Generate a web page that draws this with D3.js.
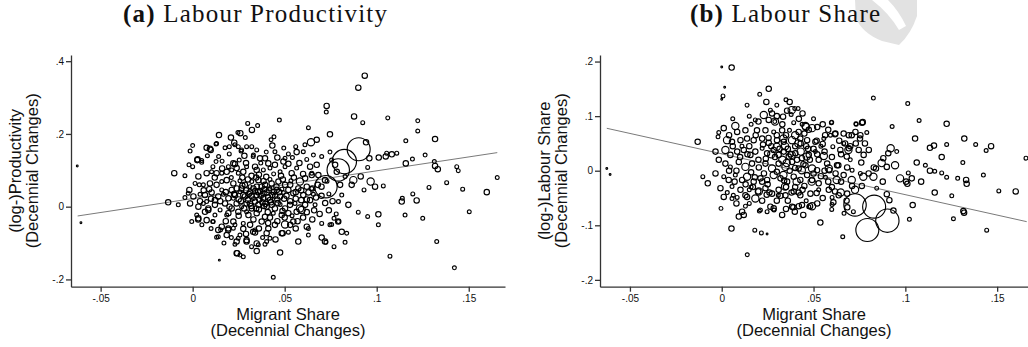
<!DOCTYPE html>
<html><head><meta charset="utf-8">
<script src="https://cdn.jsdelivr.net/npm/d3@7"></script>
<style>body{margin:0;background:#fff}svg{display:block}</style>
</head><body>
<svg id="chart" width="1028" height="347"></svg>
<script>
// weight classes (population weights of regions)
const d=0.6, s=2.8, m=5.5, b=10;

const xTicks=[-0.05,0,0.05,0.1,0.15];
const xTickLabels=["-.05","0",".05",".1",".15"];
const prodYTicks=[-0.2,0,0.2,0.4];
const prodYTickLabels=["-.2","0",".2",".4"];
const shareYTicks=[-0.2,-0.1,0,0.1,0.2];
const shareYTickLabels=["-.2","-.1","0",".1",".2"];

const panelTitles=["(a)","Labour Productivity","(b)","Labour Share"];
const xTitle=["Migrant Share","(Decennial Changes)"];
const prodYTitle=["(log-)Productivity","(Decennial Changes)"];
const shareYTitle=["(log-)Labour Share","(Decennial Changes)"];

// fitted lines: [intercept, slope], x-range
const prodFitCoef=[0.0222,0.764];
const prodFitRange=[-0.0625,0.1655];
const shareFitCoef=[0.0309,-0.748];
const shareFitRange=[-0.0626,0.1661];

// [migrant share change, log productivity change, weight]
const productivityPoints=[
[-0.0627,0.112,d],[-0.0100,0.092,m],[-0.0042,0.085,s],[-0.0607,-0.044,d],[-0.0133,0.012,m],[-0.0078,0.005,s],[-0.0042,0.025,s],
[0.0935,0.360,m],[0.0900,0.327,m],[0.0877,0.248,m],[0.0924,0.231,s],[0.1060,0.244,s],[0.1223,0.236,s],[0.1223,0.208,s],[0.1317,0.186,m],[0.1158,0.181,s],
[0.0951,0.108,s],[0.0960,0.133,m],[0.1011,0.135,m],[0.1049,0.138,m],[0.1054,0.147,s],[0.1082,0.144,m],[0.1109,0.147,s],[0.1158,0.119,m],[0.1194,0.131,s],
[0.1263,0.142,s],[0.1313,0.124,s],[0.1317,0.112,m],[0.1332,0.103,m],[0.1435,0.110,s],[0.1443,0.099,s],[0.1380,0.066,s],[0.1467,0.048,s],[0.1284,0.053,s],
[0.1196,0.035,s],[0.1598,0.040,m],[0.1139,0.023,s],[0.0967,0.069,b],[0.0991,0.055,m],[0.1036,0.057,s],[0.0913,0.083,m],[0.0873,0.073,b],[0.1655,0.080,s],[0.0942,0.177,m],
[0.0900,-0.015,s],[0.0951,-0.027,s],[0.1009,-0.021,m],[0.1009,-0.050,s],[0.1072,-0.136,s],[0.1136,0.014,m],[0.1154,-0.023,s],[0.1217,0.017,m],[0.1250,-0.032,s],
[0.1326,-0.096,s],[0.1422,-0.168,s],[0.1503,-0.014,s],[0.0864,0.060,m],[0.0931,0.046,s],[0.0438,-0.194,s],
[0.0902,0.158,100],[0.0824,0.124,112],[0.0791,0.101,95],[0.0724,0.055,95],
[0.0728,0.277,m],[0.0726,0.260,s],[0.0299,0.229,s],[0.0471,0.238,s],[0.0322,0.211,m],[0.0353,0.223,s],[0.0629,0.217,s],[0.0143,0.197,m],[0.0246,0.204,s],
[0.0259,0.202,m],[0.0286,0.190,s],[0.0208,0.190,m],[0.0442,0.192,s],[0.0426,0.184,s],[0.0643,0.177,b],[0.0674,0.184,m],[0.0746,0.199,m],[0.0000,0.168,s],
[0.0226,0.176,m],[0.0199,0.165,s],[0.0248,0.165,s],[0.0293,0.165,s],[0.0130,0.174,s],[0.0098,0.156,m],[0.0025,0.128,m],[0.0049,0.127,s],[0.0141,0.138,s],
[0.0127,0.124,s],[0.0199,0.145,s],[0.0253,0.128,s],[0.0221,0.119,m],[0.0329,0.138,s],[0.0348,0.156,s],[0.0266,0.156,s],
[-0.0014,0.153,s],[0.0076,0.162,m],[0.0094,0.159,m],[0.0127,0.172,s],[0.0176,0.162,s],[0.0230,0.170,s],[0.0263,0.153,s],[0.0321,0.165,s],[0.0281,0.140,m],
[0.0330,0.142,s],[0.0366,0.133,m],[0.0393,0.133,m],[0.0433,0.168,m],[0.0447,0.151,s],[0.0495,0.161,s],[0.0502,0.133,s],[0.0542,0.135,s],[0.0560,0.165,s],
[0.0601,0.151,s],[0.0656,0.142,s],[0.0701,0.138,s],[0.0027,0.130,m],[0.0049,0.122,s],[0.0000,0.110,s],[-0.0020,0.115,s],
[0.0076,0.092,m],[0.0103,0.096,s],[0.0130,0.092,m],[0.0158,0.092,s],[0.0185,0.096,m],[0.0212,0.101,s],[0.0239,0.106,m],[0.0248,0.092,s],[0.0275,0.096,m],
[0.0194,0.110,s],[0.0230,0.117,m],[0.0293,0.110,s],[0.0339,0.110,m],[0.0348,0.101,m],[0.0384,0.101,s],[0.0411,0.119,m],[0.0420,0.106,s],[0.0447,0.115,m],
[0.0475,0.096,s],[0.0493,0.124,m],[0.0502,0.110,s],[0.0538,0.092,m],[0.0565,0.106,s],[0.0583,0.069,b],[0.0611,0.078,m],[0.0638,0.110,m],[0.0647,0.092,s],
[0.0674,0.115,m],[0.0683,0.087,m],[0.0031,0.083,m],[0.0013,0.064,s],[0.0058,0.060,s],[0.0094,0.064,m],[0.0130,0.060,m],[0.0158,0.069,s],[0.0185,0.073,m],
[0.0221,0.064,m],[0.0257,0.071,s],[0.0284,0.060,m],[0.0321,0.069,s],[0.0357,0.073,m],[0.0393,0.060,m],[0.0429,0.064,m],[0.0466,0.069,m],[0.0502,0.060,m],[0.0534,0.071,s],
[-0.0024,0.037,s],[0.0004,0.028,m],[0.0040,0.034,s],[0.0067,0.032,m],[0.0103,0.039,m],[0.0139,0.028,m],[0.0167,0.034,s],[0.0194,0.023,m],[0.0230,0.032,m],
[0.0257,0.041,s],[0.0284,0.028,m],[0.0312,0.039,m],[0.0330,0.050,m],[0.0348,0.032,m],[0.0366,0.043,m],[0.0384,0.023,m],[0.0402,0.039,m],[0.0420,0.050,s],
[0.0433,0.032,m],[0.0457,0.046,m],[0.0475,0.028,m],[0.0493,0.039,s],[0.0520,0.046,m],[0.0547,0.037,m],[0.0574,0.050,m],[0.0601,0.032,m],[0.0629,0.039,m],
[0.0656,0.034,s],[0.0348,0.055,m],[0.0375,0.055,m],[0.0312,0.055,s],[0.0266,0.050,m],[0.0212,0.046,m],[0.0158,0.046,s],
[-0.0014,0.009,m],[0.0031,0.000,m],[0.0058,0.009,s],[0.0085,-0.005,m],[0.0121,0.005,m],[0.0149,-0.009,s],[0.0176,0.009,m],[0.0212,-0.005,m],[0.0239,0.009,m],
[0.0266,0.000,s],[0.0293,0.009,m],[0.0321,-0.005,m],[0.0339,0.014,m],[0.0357,0.005,m],[0.0379,0.012,m],[0.0402,0.000,m],[0.0426,0.012,m],[0.0447,-0.005,m],
[0.0475,0.006,s],[0.0502,-0.005,m],[0.0529,0.005,m],[0.0556,0.009,s],[0.0583,-0.005,b],[0.0611,0.005,m],[0.0638,0.018,m],[0.0665,0.005,s],[0.0067,-0.014,m],
[0.0121,-0.023,s],[0.0194,-0.018,m],[0.0248,-0.014,m],[0.0303,-0.023,m],[0.0348,-0.018,m],[0.0393,-0.028,m],[0.0438,-0.018,s],[0.0484,-0.023,m],[0.0520,-0.018,m],
[0.0565,-0.014,m],[0.0592,-0.009,b],
[-0.0005,-0.041,s],[0.0031,-0.032,m],[0.0076,-0.037,m],[0.0112,-0.041,s],[0.0158,-0.055,m],[0.0194,-0.060,m],[0.0230,-0.050,s],[0.0275,-0.061,m],[0.0312,-0.050,m],
[0.0339,-0.064,s],[0.0375,-0.041,m],[0.0411,-0.060,m],[0.0447,-0.050,m],[0.0502,-0.049,b],[0.0547,-0.041,m],[0.0339,-0.071,m],[0.0402,-0.073,m],[0.0484,-0.073,m],
[0.0574,-0.096,m],[0.0629,-0.060,s],[0.0629,-0.078,s],[0.0701,-0.046,s],[0.0746,-0.050,s],[0.0792,-0.041,s],[0.0810,-0.069,m],[0.0837,-0.073,s],[0.0768,-0.032,s],
[0.0701,-0.085,m],[0.0719,-0.096,m],[0.0768,-0.110,s],[0.0139,-0.083,s],[0.0139,-0.064,m],[0.0185,-0.078,m],[0.0248,-0.087,s],[0.0293,-0.096,m],[0.0239,-0.096,m],
[0.0239,-0.128,m],[0.0257,-0.133,s],[0.0275,-0.138,s],[0.0348,-0.101,m],[0.0348,-0.122,m],[0.0420,-0.087,s],[0.0475,-0.126,m],[0.0145,-0.147,d],
[0.0755,0.128,s],[0.0774,0.115,m],[0.0647,0.087,m],[0.0719,0.073,m],[0.0783,0.096,m],[0.0828,0.083,s],[0.0801,0.060,m],[0.0846,0.005,m],[0.0810,0.032,s],
[0.0792,0.014,s],[0.0647,0.050,s],[0.0746,0.150,s],[0.0730,0.070,s],
[0.0022,-0.023,s],[0.0030,-0.035,m],[0.0109,-0.041,s],[0.0085,-0.009,m],[0.0121,0.018,m],[0.0076,0.014,s],[0.0152,-0.064,s],[0.0193,-0.064,m],[0.0221,-0.059,s],
[0.0130,-0.084,s],[0.0230,-0.103,s],[0.0293,-0.092,m],[0.0242,-0.128,m],[0.0257,-0.078,s],[0.0329,-0.069,m],[0.0275,-0.046,s],[0.0221,-0.041,m],[0.0185,-0.023,s],
[0.0293,-0.014,s],[0.0311,0.009,m],[0.0221,0.023,s],[0.0275,0.032,m],[-0.0018,0.046,m],[0.0036,0.060,s],
[0.0393,-0.103,s],[0.0402,-0.096,s],[0.0357,-0.105,s],[0.0620,-0.055,m],[0.0755,-0.049,s],[0.0791,-0.041,m],[0.0828,-0.098,s],[0.0724,-0.098,s],[0.0489,-0.073,m],
[0.0290,0.045,m],[0.0320,0.030,m],[0.0355,0.040,m],[0.0390,0.048,m],[0.0410,0.025,m],[0.0440,0.040,m],[0.0460,0.020,m],[0.0300,0.018,m],[0.0330,0.022,s],
[0.0370,0.030,m],[0.0395,0.008,m],[0.0420,0.018,m],[0.0455,0.055,m],[0.0485,0.048,s],[0.0510,0.030,m],[0.0530,0.015,m],[0.0250,0.020,m],[0.0270,0.058,m],
[0.0225,0.035,m],[0.0180,0.040,m],[0.0150,0.015,m],[0.0100,0.022,m],[0.0060,0.045,m],[0.0200,0.000,m],[0.0250,-0.025,m],[0.0280,-0.005,m],[0.0360,-0.008,m],
[0.0420,-0.030,m],[0.0460,-0.040,m],[0.0500,-0.030,m],[0.0540,-0.025,s],[0.0560,0.022,m],[0.0590,0.018,m],[0.0620,0.055,m],[0.0600,0.090,m],[0.0550,0.080,m],
[0.0480,0.085,m],[0.0440,0.090,s],[0.0400,0.082,m],[0.0360,0.088,m],[0.0320,0.085,m],[0.0270,0.080,m],[0.0210,0.080,s],[0.0160,0.105,m],[0.0110,0.110,s],
[0.0080,0.140,s],[0.0370,0.120,s],[0.0460,0.135,m],[0.0520,0.145,s],[0.0580,0.120,m],[0.0620,0.130,s],[0.0680,0.060,m],[0.0700,0.030,m],[0.0720,0.010,m],
[0.0690,-0.020,m],[0.0650,-0.035,m],[0.0600,-0.030,m],[0.0560,-0.060,m],[0.0520,-0.070,s],[0.0450,-0.090,m],[0.0380,-0.085,s],[0.0320,-0.110,s],[0.0180,-0.040,m],
[0.0100,-0.060,s],[0.0050,-0.050,s],[0.0040,0.015,m],[0.0090,0.048,m],
[0.0305,0.035,m],[0.0340,0.043,m],[0.0362,0.020,m],[0.0385,0.036,m],[0.0415,0.045,m],[0.0448,0.030,m],[0.0470,0.040,m],[0.0497,0.022,m],[0.0318,0.002,m],
[0.0345,-0.005,m],[0.0388,0.002,m],[0.0430,0.005,m],[0.0462,0.010,m],[0.0488,-0.012,m],[0.0408,-0.015,m],[0.0330,-0.035,m],[0.0262,0.015,m],[0.0240,0.050,m],
[0.0300,0.075,m],[0.0345,0.080,m],[0.0385,0.070,m],[0.0420,0.075,s],[0.0490,0.075,m],[0.0530,0.060,m],[0.0560,0.040,m],[0.0590,0.045,m],[0.0620,0.020,m],
[0.0650,0.050,m],[0.0670,0.025,m],[0.0700,0.055,m],[0.0740,0.035,s],[0.0760,0.015,m],[0.0740,-0.010,m],[0.0780,-0.020,s],[0.0660,-0.010,m],[0.0620,-0.015,m],
[0.0570,-0.040,m],[0.0530,-0.050,m],[0.0410,-0.045,m],[0.0360,-0.060,m],[0.0290,-0.075,m],[0.0210,-0.085,s],[0.0170,-0.100,s],[0.0120,0.080,m],[0.0160,0.125,s],
[0.0290,0.120,m],[0.0400,0.150,s],[0.0520,0.118,m],[0.0565,0.150,m],[0.0610,0.170,s]
];

// [migrant share change, log labour share change, weight]
const labourSharePoints=[
[-0.0626,0.004,d],[-0.0608,-0.007,d],[-0.0131,0.053,m],[-0.0103,-0.011,s],[-0.0076,-0.023,m],[0.0000,0.190,d],[0.0054,0.189,m],[0.0139,-0.154,s],
[0.0928,0.081,s],[0.1013,0.123,s],[0.1075,0.092,s],[0.1225,0.086,m],[0.1053,0.059,m],[0.1134,0.042,m],[0.1156,0.046,m],[0.1225,0.048,s],[0.1321,0.059,m],
[0.1383,0.048,s],[0.1440,0.037,s],[0.1467,0.045,m],[0.1657,0.023,s],[0.1198,0.025,m],[0.1313,0.015,s],[0.1109,0.010,s],[0.1134,0.000,m],[0.1160,-0.001,s],
[0.1198,-0.004,s],[0.1225,-0.012,s],[0.1285,-0.014,s],[0.1331,-0.017,m],[0.1334,-0.024,m],[0.1425,-0.008,s],[0.1509,-0.037,s],[0.1601,-0.038,m],[0.1253,-0.046,s],
[0.1160,-0.040,m],[0.1086,-0.020,m],[0.1062,0.015,m],[0.1035,-0.014,m],[0.1016,-0.004,s],[0.1004,-0.020,m],[0.0971,-0.014,b],[0.0944,0.010,b],[0.0920,0.041,b],
[0.0953,0.035,s],[0.0880,0.023,m],[0.0871,0.014,b],[0.0877,-0.020,m],[0.0899,-0.043,m],[0.0913,-0.054,m],[0.0935,-0.073,m],[0.1022,-0.089,s],[0.1040,-0.063,m],
[0.1011,-0.024,m],[0.1262,-0.088,s],[0.1316,-0.074,m],[0.1320,-0.077,m],[0.1443,-0.109,s],[0.0826,0.133,s],[0.0826,-0.011,b],[0.0907,0.032,m],[0.0899,0.007,m],
[0.0726,-0.0628,95],[0.0830,-0.0659,100],[0.0902,-0.0916,103],[0.0793,-0.1086,100],
[0.0016,0.153,d],[0.0007,0.137,s],[0.0000,0.131,d],[0.0256,0.150,m],[0.0207,0.140,s],[0.0243,0.126,m],[0.0138,0.120,s],[0.0370,0.126,m],[0.0398,0.114,s],
[0.0416,0.114,s],[0.0356,0.110,m],[0.0334,0.099,m],[0.0378,0.103,s],[0.0265,0.111,s],[0.0274,0.105,m],[0.0229,0.102,b],[0.0256,0.093,m],[0.0289,0.090,s],
[0.0183,0.093,s],[0.0160,0.085,s],[0.0392,0.088,s],[0.0438,0.085,s],[0.0456,0.082,b],[0.0492,0.078,b],[0.0474,0.075,m],[0.0419,0.071,m],[0.0369,0.074,s],
[0.0329,0.074,m],[0.0283,0.071,s],[0.0238,0.074,m],[0.0192,0.074,m],[0.0129,0.074,m],[0.0074,0.082,b],[0.0084,0.071,m],[0.0011,0.078,m],[-0.0016,0.070,s],
[-0.0020,0.062,s],[0.0029,0.056,b],[0.0056,0.053,m],[0.0102,0.056,m],[0.0138,0.059,m],[0.0174,0.056,m],[0.0220,0.059,m],[0.0256,0.051,m],[0.0301,0.056,m],
[0.0338,0.053,m],[0.0383,0.056,b],[0.0428,0.059,m],[0.0465,0.056,m],[0.0510,0.053,m],[0.0556,0.059,s],[0.0592,0.065,s],[0.0619,0.068,m],[0.0664,0.068,m],
[0.0692,0.065,m],[0.0728,0.071,m],[0.0755,0.065,m],[0.0764,0.088,m],[0.0732,0.085,s],[0.0597,0.088,s],[0.0664,0.050,s],[0.0692,0.041,m],[0.0746,0.038,m],
[0.0773,0.029,m],[0.0801,0.038,m],[0.0646,0.038,m],[0.0605,0.044,s],
[-0.0034,0.035,m],[0.0020,0.038,b],[0.0047,0.029,m],[0.0084,0.035,m],[0.0120,0.038,m],[0.0156,0.029,m],[0.0183,0.035,m],[0.0220,0.041,s],[0.0247,0.032,m],
[0.0283,0.038,m],[0.0310,0.029,m],[0.0338,0.035,m],[0.0365,0.026,m],[0.0401,0.032,m],[0.0437,0.023,m],[0.0474,0.029,m],[0.0510,0.035,s],[0.0556,0.027,b],
[0.0528,0.020,m],[0.0574,0.013,m],[0.0583,0.004,b],[0.0628,0.010,m],[0.0683,0.006,m],[0.0664,-0.008,m],[0.0710,0.001,s],[0.0755,-0.005,s],[0.0828,0.006,m],
[-0.0016,0.020,m],[0.0020,0.013,m],[0.0047,0.007,s],[0.0093,0.016,m],[0.0129,0.007,b],[0.0165,0.013,m],[0.0202,0.006,m],[0.0238,0.013,m],[0.0274,0.004,b],
[0.0310,0.013,m],[0.0347,0.007,b],[0.0383,0.016,m],[0.0419,0.004,m],[0.0456,0.010,m],[0.0492,0.004,b],[0.0519,0.001,m],
[-0.0034,-0.005,m],[0.0011,-0.011,s],[0.0038,-0.017,m],[0.0074,-0.008,s],[0.0111,-0.017,m],[0.0138,-0.011,b],[0.0174,-0.020,m],[0.0211,-0.014,m],[0.0247,-0.017,m],
[0.0283,-0.008,b],[0.0320,-0.014,m],[0.0356,-0.020,m],[0.0392,-0.011,m],[0.0428,-0.017,m],[0.0465,-0.008,m],[0.0492,-0.017,m],[0.0528,-0.023,m],[0.0565,-0.012,s],
[-0.0007,-0.032,m],[0.0056,-0.029,s],[0.0102,-0.035,m],[0.0129,-0.045,m],[0.0160,-0.030,s],[0.0202,-0.038,b],[0.0238,-0.032,m],[0.0274,-0.042,m],[0.0310,-0.035,m],
[0.0347,-0.045,m],[0.0392,-0.038,m],[0.0428,-0.045,m],[0.0483,-0.042,m],[0.0528,-0.035,s],[0.0583,-0.035,m],[0.0637,-0.045,m],[0.0683,-0.042,m],[0.0710,-0.028,m],
[0.0011,-0.048,m],[0.0056,-0.051,s],[0.0084,-0.049,s],[0.0138,-0.048,m],[0.0183,-0.051,b],[0.0220,-0.055,m],[0.0320,-0.046,m],[0.0419,-0.040,m],[0.0437,-0.063,m],
[0.0492,-0.065,b],[0.0474,-0.066,s],
[-0.0004,-0.069,s],[0.0129,-0.065,s],[0.0111,-0.075,m],[0.0093,-0.084,m],[0.0120,-0.081,m],[0.0211,-0.072,s],[0.0265,-0.066,m],[0.0283,-0.069,m],[0.0247,-0.075,s],
[0.0329,-0.081,m],[0.0383,-0.066,m],[0.0398,-0.075,m],[0.0537,-0.095,m],[0.0053,-0.106,m],[0.0180,-0.109,s],[0.0216,-0.114,s],[0.0247,-0.116,d],[0.0659,-0.121,s],
[0.0601,-0.049,s],[0.0601,-0.062,s],
[0.0063,-0.045,s],[0.0150,-0.035,s],[0.0199,-0.038,m],[0.0245,-0.044,m],[0.0285,-0.072,s],[0.0205,-0.074,s],[0.0444,-0.081,m],[0.0390,-0.067,m],[0.0481,-0.065,m],
[0.0308,-0.045,s],[0.0517,-0.041,m],[0.0617,-0.038,m],[0.0648,-0.040,b],[0.0763,-0.028,m],[0.0608,-0.058,m],[0.0599,-0.071,s],[0.0684,-0.067,m],[0.0666,-0.078,s],
[0.0717,-0.075,s],
[0.0599,0.089,s],[0.0731,0.086,s],[0.0768,0.089,m],[0.0681,0.026,m],[0.0690,0.038,b],[0.0672,0.050,m],[0.0708,0.065,m],[0.0753,0.059,m],[0.0550,0.049,m],
[0.0517,0.055,m],[0.0563,0.065,m],[0.0617,0.067,m],[0.0459,0.080,b],[0.0381,0.111,b],[0.0290,0.090,b],[0.0417,0.050,b],[0.0336,0.059,b],[0.0300,0.044,b],
[0.0381,0.029,b],[0.0463,0.026,b],[0.0354,0.014,b],[0.0436,0.001,b],[0.0336,-0.008,b],[0.0408,-0.020,b],[0.0345,-0.029,b],[0.0490,-0.020,b],[0.0586,0.001,m],
[0.0626,-0.017,b],[0.0635,0.010,m],[0.0708,-0.017,b],[0.0771,-0.011,b],[0.0726,-0.035,b],[0.0840,0.004,m],[0.0844,-0.032,s],
[0.0290,0.025,m],[0.0330,0.020,b],[0.0360,0.040,m],[0.0400,0.045,m],[0.0430,0.035,b],[0.0460,0.045,m],[0.0500,0.040,m],[0.0540,0.045,s],[0.0300,0.065,m],
[0.0350,0.065,m],[0.0400,0.065,b],[0.0450,0.068,m],[0.0270,0.045,m],[0.0240,0.022,m],[0.0200,0.020,m],[0.0150,0.045,m],[0.0100,0.025,m],[0.0060,0.045,m],
[0.0080,0.000,m],[0.0160,-0.003,m],[0.0230,-0.005,m],[0.0300,-0.002,m],[0.0370,0.000,m],[0.0400,-0.030,m],[0.0450,-0.028,m],[0.0500,-0.005,m],[0.0540,-0.010,m],
[0.0560,0.035,m],[0.0600,0.025,m],[0.0620,-0.005,m],[0.0650,0.030,m],[0.0700,0.020,s],[0.0730,0.050,m],[0.0780,0.050,m],[0.0200,0.090,m],[0.0150,0.100,s],
[0.0300,0.120,s],[0.0330,0.085,m],[0.0420,0.095,m],[0.0500,0.095,s],[0.0550,0.085,m],[0.0060,0.095,s],[0.0040,0.065,m],[0.0250,-0.025,m],[0.0170,-0.030,m],
[0.0070,-0.020,m],[0.0300,-0.055,m],[0.0360,-0.055,m],[0.0550,-0.050,m],[0.0580,-0.020,m],[0.0460,-0.055,s],[0.0150,-0.060,s],[0.0080,-0.060,m],[0.0350,-0.030,m],
[0.0270,0.030,b],[0.0430,0.050,m],
[0.0315,0.040,m],[0.0345,0.045,b],[0.0375,0.030,m],[0.0410,0.020,m],[0.0445,0.012,m],[0.0480,0.020,m],[0.0520,0.030,m],[0.0400,0.005,m],[0.0340,-0.018,m],
[0.0380,-0.040,m],[0.0440,-0.035,m],[0.0470,0.040,m],[0.0255,0.060,m],[0.0225,0.048,m],[0.0185,0.065,m],[0.0140,0.030,m],[0.0110,0.045,s],[0.0180,-0.012,m],
[0.0260,-0.040,m],[0.0220,-0.020,m],[0.0130,-0.025,m],[0.0040,0.000,m],[0.0030,-0.040,s],[0.0560,0.000,m],[0.0600,-0.030,m],[0.0650,-0.020,m],[0.0680,-0.055,m],
[0.0520,-0.060,m],[0.0420,-0.065,m],[0.0350,-0.070,m],[0.0300,0.100,m],[0.0350,0.130,s],[0.0440,0.105,m],[0.0520,0.080,m],[0.0580,0.075,m],[0.0640,0.055,m],
[0.0700,0.045,m],[0.0760,0.015,m],[0.0800,-0.005,m],[0.0790,0.070,s]
];

const svg=d3.select("#chart");
const sans="'Liberation Sans', Arial, Helvetica, sans-serif";
const serif="'Liberation Serif', 'Times New Roman', serif";

// faint watermark fragment in the top-right corner
svg.append("path")
  .attr("d","M855,0 L917,0 L917,16 Q911,34 899,45 L882,41 Q862,33 856,18 Z")
  .attr("fill","#e2e2e2");
svg.append("path")
  .attr("d","M872,0 L888,0 Q899,11 906,26 L899,30 Q889,13 872,0 Z")
  .attr("fill","#fff");

const rScale=d3.scaleSqrt().domain([0,100]).range([0,11.5]);

function panel(opts){
  const x=d3.scaleLinear().domain(opts.xDomain).range(opts.xRange);
  const y=d3.scaleLinear().domain(opts.yDomain).range(opts.yRange);
  const g=svg.append("g");

  // title
  const t=g.append("text").attr("x",opts.titleX).attr("y",21.5)
    .attr("text-anchor","middle").attr("font-family",serif).attr("font-size",25)
    .attr("fill","#111");
  t.append("tspan").attr("font-weight","bold").text(opts.title[0]);
  t.append("tspan").text(" "+opts.title[1]);
  t.attr("textLength",opts.titleLen).attr("lengthAdjust","spacing");

  // fit line
  const line=d3.line().x(v=>x(v)).y(v=>y(opts.fitCoef[0]+opts.fitCoef[1]*v));
  g.append("path").datum(opts.fitRange).attr("d",line)
    .attr("fill","none").attr("stroke","#7a7a7a").attr("stroke-width",1);

  // points
  g.append("g").selectAll("circle").data(opts.points).join("circle")
    .attr("cx",p=>x(p[0])).attr("cy",p=>y(p[1])).attr("r",p=>rScale(p[2]))
    .attr("fill","none").attr("stroke","#000").attr("stroke-width",1.15);

  // axes
  const xa=d3.axisBottom(x).tickValues(xTicks).tickFormat((v,i)=>xTickLabels[i])
    .tickSizeInner(5).tickSizeOuter(0).tickPadding(3);
  const ya=d3.axisLeft(y).tickValues(opts.yTicks).tickFormat((v,i)=>opts.yTickLabels[i])
    .tickSizeInner(5).tickSizeOuter(0).tickPadding(2);
  const gx=g.append("g").attr("transform",`translate(0,${opts.yRange[0]})`).call(xa);
  const gy=g.append("g").attr("transform",`translate(${opts.xRange[0]},0)`).call(ya);
  [gx,gy].forEach(a=>{
    a.selectAll("path,line").attr("stroke","#333").attr("stroke-width",1.3);
    a.selectAll("text").attr("font-family",sans).attr("font-size",10).attr("fill","#111");
  });

  // axis titles
  const cx=(opts.xRange[0]+opts.xRange[1])/2;
  g.append("text").attr("x",cx).attr("y",319.5).attr("text-anchor","middle")
    .attr("font-family",sans).attr("font-size",16.5).attr("fill","#111").text(xTitle[0]);
  g.append("text").attr("x",cx).attr("y",335.5).attr("text-anchor","middle")
    .attr("font-family",sans).attr("font-size",16.5).attr("fill","#111").text(xTitle[1]);
  const cy=(opts.yRange[0]+opts.yRange[1])/2;
  opts.yTitle.forEach((txt,i)=>{
    g.append("text").attr("transform",`translate(${opts.yTitleX[i]},${cy}) rotate(-90)`)
      .attr("text-anchor","middle").attr("font-family",sans).attr("font-size",16.5)
      .attr("fill","#111").text(txt);
  });
}

panel({xDomain:[-0.0661,0.1697],xRange:[71,505],yDomain:[-0.22,0.417],yRange:[286.7,55],
  yTicks:prodYTicks,yTickLabels:prodYTickLabels,points:productivityPoints,
  fitCoef:prodFitCoef,fitRange:prodFitRange,title:[panelTitles[0],panelTitles[1]],
  titleX:255,titleLen:264,yTitle:prodYTitle,yTitleX:[20.5,38]});
panel({xDomain:[-0.0663,0.1668],xRange:[600,1028],yDomain:[-0.2125,0.212],yRange:[286.7,55],
  yTicks:shareYTicks,yTickLabels:shareYTickLabels,points:labourSharePoints,
  fitCoef:shareFitCoef,fitRange:shareFitRange,title:[panelTitles[2],panelTitles[3]],
  titleX:785,titleLen:190,yTitle:shareYTitle,yTitleX:[549.5,567]});
</script>
</body></html>
